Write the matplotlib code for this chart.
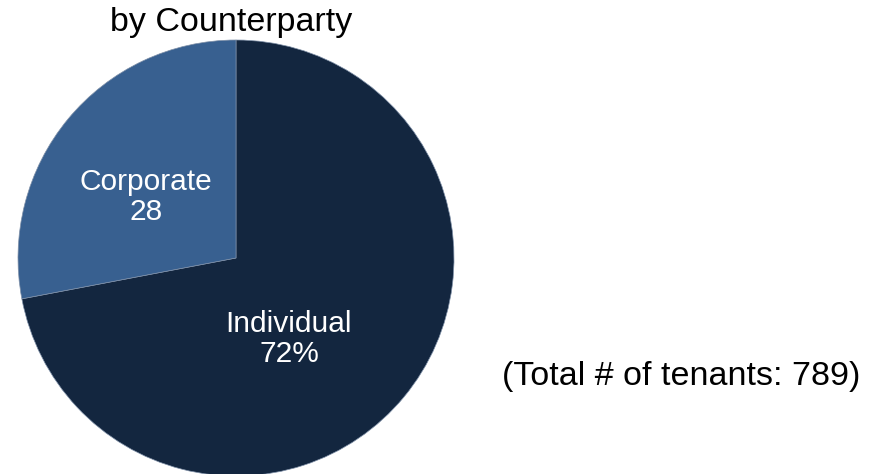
import matplotlib
matplotlib.use("Agg")
import matplotlib.pyplot as plt

plt.rcParams['font.family'] = ['Liberation Sans', 'DejaVu Sans']

# tenant mix by counterparty (share of tenants, %)
categories = ["Individual", "Corporate"]
shares = [72, 28]
share_suffix = ["%", ""]
total_tenants = 789

colors = ["#13263F", "#386090"]

W, H = 879, 474
fig = plt.figure(figsize=(W / 100, H / 100), dpi=100)
ax = fig.add_axes([0, 0, 1, 1])

cx, cy, radius = 236, H - 258, 218
wedges, _ = ax.pie(shares, colors=colors, startangle=90, counterclock=False,
                   center=(cx, cy), radius=radius, frame=True,
                   wedgeprops=dict(edgecolor="#7f90a8", linewidth=0.5))
ax.set_xlim(0, W)
ax.set_ylim(0, H)
ax.set_aspect("equal")
ax.axis("off")

# slice labels, placed inside each wedge
label_pos = [(289, H - 339), (146, H - 197)]
for name, val, suf, (x, y) in zip(categories, shares, share_suffix, label_pos):
    ax.text(x, y, f"{name}\n{val}{suf}", ha="center", va="center",
            color="white", fontsize=21.5, linespacing=1.05)

ax.text(231, H - 22, "by Counterparty", ha="center", va="center",
        fontsize=24.5, color="black")
ax.text(681, H - 376, f"(Total # of tenants: {total_tenants})", ha="center",
        va="center", fontsize=24.5, color="black")

fig.savefig("out.png", dpi=100)
